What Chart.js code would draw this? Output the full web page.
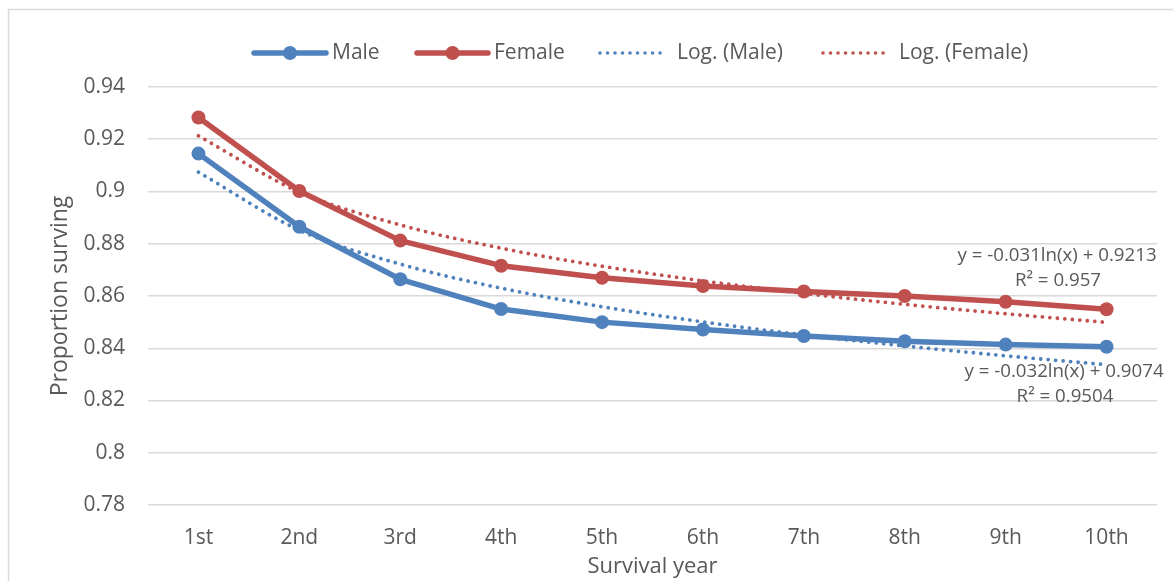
<!DOCTYPE html>
<html>
<head>
<meta charset="utf-8">
<script src="https://cdn.jsdelivr.net/npm/chart.js@4.4.1/dist/chart.umd.min.js"></script>
<style>
  html, body { margin: 0; padding: 0; background: #fff; }
  #wrap { position: relative; width: 1173px; height: 581px; }
</style>
</head>
<body>
<div id="wrap"><canvas id="c" width="1173" height="581"></canvas></div>
<script>
const categories = ['1st', '2nd', '3rd', '4th', '5th', '6th', '7th', '8th', '9th', '10th'];
const maleValues = [0.9145, 0.8865, 0.8664, 0.8550, 0.8500, 0.8472, 0.8447, 0.8427, 0.8414, 0.8406];
const femaleValues = [0.9283, 0.9002, 0.8812, 0.8716, 0.8670, 0.8638, 0.8617, 0.8600, 0.8578, 0.8549];
// Logarithmic trendline values (per category)
const maleTrend = [0.9074, 0.8852, 0.8722, 0.8630, 0.8559, 0.8501, 0.8451, 0.8409, 0.8371, 0.8337];
const femaleTrend = [0.9213, 0.8998, 0.8872, 0.8783, 0.8714, 0.8658, 0.8610, 0.8568, 0.8532, 0.8499];
const yTicks = [0.78, 0.8, 0.82, 0.84, 0.86, 0.88, 0.9, 0.92, 0.94];
const legendLabels = ['Male', 'Female', 'Log. (Male)', 'Log. (Female)'];
const maleEquation = ['y = -0.032ln(x) + 0.9074', 'R² = 0.9504'];
const femaleEquation = ['y = -0.031ln(x) + 0.9213', 'R² = 0.957'];

const BLUE = '#4F81BD';
const RED = '#C0504D';
const TEXT = '#595959';
const FONT = "'Open Sans', 'Noto Sans', sans-serif";

const frame = {
  id: 'frame',
  beforeDraw(chart) {
    const ctx = chart.ctx;
    ctx.save();
    ctx.fillStyle = '#fff';
    ctx.fillRect(0, 0, chart.width, chart.height);
    ctx.strokeStyle = '#d9d9d9';
    ctx.lineWidth = 1.5;
    ctx.strokeRect(8.5, 9.5, chart.width + 20, chart.height + 20);
    ctx.restore();
  }
};

const customLegend = {
  id: 'customLegend',
  afterDraw(chart) {
    const ctx = chart.ctx;
    const y = 53;
    const items = [
      { x0: 254, x1: 326, color: BLUE, dot: true, tx: 332, label: legendLabels[0] },
      { x0: 417, x1: 488, color: RED, dot: true, tx: 494, label: legendLabels[1] },
      { x0: 600, x1: 664, color: BLUE, dot: false, tx: 677, label: legendLabels[2] },
      { x0: 823, x1: 887, color: RED, dot: false, tx: 899, label: legendLabels[3] }
    ];
    ctx.save();
    items.forEach(it => {
      ctx.strokeStyle = it.color;
      ctx.lineCap = 'round';
      if (it.dot) {
        ctx.lineWidth = 5.5;
        ctx.setLineDash([]);
        ctx.beginPath(); ctx.moveTo(it.x0, y); ctx.lineTo(it.x1, y); ctx.stroke();
        ctx.fillStyle = it.color;
        ctx.beginPath(); ctx.arc((it.x0 + it.x1) / 2, y, 7, 0, Math.PI * 2); ctx.fill();
      } else {
        ctx.lineWidth = 3.6;
        ctx.setLineDash([0.01, 7.5]);
        ctx.beginPath(); ctx.moveTo(it.x0, y); ctx.lineTo(it.x1, y); ctx.stroke();
        ctx.setLineDash([]);
      }
      ctx.fillStyle = TEXT;
      ctx.font = "21px " + FONT;
      ctx.textAlign = 'left';
      ctx.textBaseline = 'middle';
      ctx.fillText(it.label, it.tx, y);
    });
    ctx.restore();
  }
};

const equations = {
  id: 'equations',
  afterDatasetsDraw(chart) {
    const ctx = chart.ctx;
    ctx.save();
    ctx.fillStyle = TEXT;
    ctx.font = "18.7px " + FONT;
    ctx.textAlign = 'center';
    ctx.textBaseline = 'middle';
    ctx.fillText(femaleEquation[0], 1057, 256);
    ctx.fillText(femaleEquation[1], 1058, 281);
    ctx.fillText(maleEquation[0], 1064, 372);
    ctx.fillText(maleEquation[1], 1065, 397);
    ctx.restore();
  }
};

new Chart(document.getElementById('c'), {
  type: 'line',
  data: {
    labels: categories,
    datasets: [
      {
        label: 'Log. (Male)', data: maleTrend, borderColor: BLUE, backgroundColor: BLUE,
        borderWidth: 3.8, borderDash: [0.01, 7.5], borderCapStyle: 'round',
        pointRadius: 0, cubicInterpolationMode: 'monotone', fill: false, order: 3
      },
      {
        label: 'Log. (Female)', data: femaleTrend, borderColor: RED, backgroundColor: RED,
        borderWidth: 3.8, borderDash: [0.01, 7.5], borderCapStyle: 'round',
        pointRadius: 0, cubicInterpolationMode: 'monotone', fill: false, order: 4
      },
      {
        label: 'Male', data: maleValues, borderColor: BLUE, backgroundColor: BLUE,
        borderWidth: 5.5, pointRadius: 7, pointBorderWidth: 0, pointBackgroundColor: BLUE,
        tension: 0, fill: false, order: 1, borderJoinStyle: 'round'
      },
      {
        label: 'Female', data: femaleValues, borderColor: RED, backgroundColor: RED,
        borderWidth: 5.5, pointRadius: 7, pointBorderWidth: 0, pointBackgroundColor: RED,
        tension: 0, fill: false, order: 2, borderJoinStyle: 'round'
      }
    ]
  },
  options: {
    responsive: false,
    animation: false,
    layout: { padding: { top: 87, right: 16, left: 0, bottom: 0 } },
    plugins: { legend: { display: false }, tooltip: { enabled: false } },
    scales: {
      x: {
        offset: true,
        grid: { display: false, drawTicks: false },
        border: { display: false },
        ticks: { color: TEXT, font: { family: FONT, size: 21 }, padding: 20 },
        title: { display: true, text: 'Survival year', color: TEXT, font: { family: FONT, size: 22 }, padding: { top: 0, bottom: 1 } },
        afterFit: s => { s.height = 76; }
      },
      y: {
        min: 0.78, max: 0.94,
        afterBuildTicks: s => { s.ticks = yTicks.map(v => ({ value: v })); },
        grid: { color: '#d9d9d9', lineWidth: 1.5, drawTicks: false },
        border: { display: false },
        ticks: {
          color: TEXT, font: { family: FONT, size: 21 }, padding: 23,
          callback: v => String(Number(v.toFixed(2)))
        },
        title: { display: true, text: 'Proportion surving', color: TEXT, font: { family: FONT, size: 23 }, padding: { top: 47, bottom: 0 } },
        afterFit: s => { s.width = 148; }
      }
    }
  },
  plugins: [frame, customLegend, equations]
});
</script>
</body>
</html>
